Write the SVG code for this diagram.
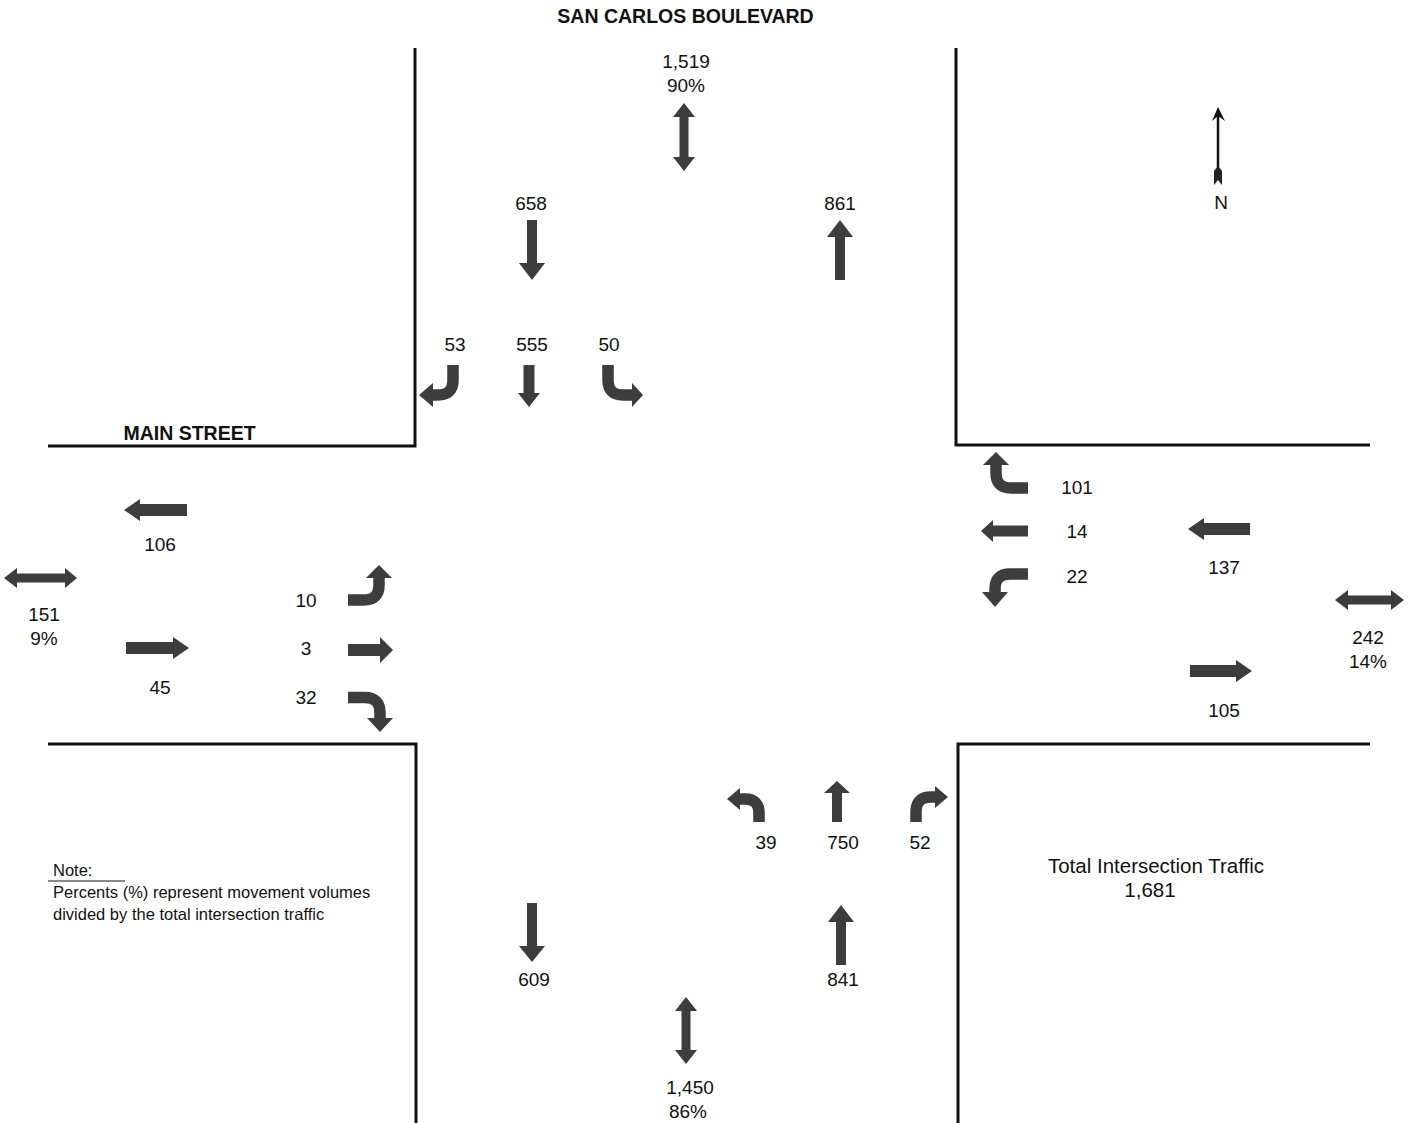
<svg xmlns="http://www.w3.org/2000/svg" width="1416" height="1123" viewBox="0 0 1416 1123">
<style>
.road{stroke:#111;stroke-width:3;fill:none}
.arr{fill:#3d3d3d}
.turn{stroke:#3d3d3d;stroke-width:11.5;fill:none}
text{font-family:"Liberation Sans",Arial,sans-serif;font-size:19px;fill:#111;text-anchor:middle}
.title{font-weight:bold;font-size:19.5px}
.big{font-size:20.5px}
.note{font-size:16.5px;text-anchor:start}
</style>
<rect width="1416" height="1123" fill="#fff"/>
<g id="roads">
<path class="road" d="M415,48 V446 H48"/>
<path class="road" d="M956,48 V445 H1370"/>
<path class="road" d="M48,744 H416 V1123"/>
<path class="road" d="M1370,744 H958 V1123"/>
</g>
<g id="labels">
<text class="title" x="685.5" y="23">SAN CARLOS BOULEVARD</text>
<text class="title" x="189.5" y="440">MAIN STREET</text>
</g>
<g id="connectors">
<g id="north-leg">
<path class="arr" d="M684,103 L695,117 H688.5 V157 H695 L684,171 L673,157 H679.5 V117 H673 Z"/>
<path class="arr" d="M527,220 H537 V263 H545 L532,280 L519,263 H527 Z"/>
<path class="arr" d="M835,280 H845 V237 H853 L840,220 L827,237 H835 Z"/>
<path class="turn" d="M453,365 V380 Q453,395 438,395 H432"/>
<path class="arr" d="M433,383 L419,395 L433,407 Z"/>
<path class="arr" d="M523.5,365 H534.5 V393 H540 L529,407 L518,393 H523.5 Z"/>
<path class="turn" d="M608,365 V380 Q608,395 623,395 H633"/>
<path class="arr" d="M632,383 L643,395 L632,407 Z"/>
</g>
<g id="west-leg">
<path class="arr" d="M187,504 V516 H140 V521 L124,510 L140,499 V504 Z"/>
<path class="arr" d="M4,578 L17,568 V573.5 H65 V568 L77,578 L65,588 V582.5 H17 V588 Z"/>
<path class="arr" d="M126,642 V654 H173 V659 L189,648 L173,637 V642 Z"/>
<path class="turn" d="M348,600 H364 Q379,600 379,585 V577"/>
<path class="arr" d="M366,578 L379,565 L392,578 Z"/>
<path class="arr" d="M348,644 V656 H380 V663 L393,650 L380,637 V644 Z"/>
<path class="turn" d="M348,697.5 H365 Q380,697.5 380,713 V719"/>
<path class="arr" d="M367,718 L380,732 L393,718 Z"/>
</g>
<g id="east-leg">
<path class="turn" d="M1028,488 H1011 Q996,488 996,473 V464"/>
<path class="arr" d="M983,465 L996,452 L1009,465 Z"/>
<path class="arr" d="M1028,525.5 V536.5 H993 V542 L981,531 L993,520 V525.5 Z"/>
<path class="turn" d="M1028,574 H1010 Q995,574 995,589 V593"/>
<path class="arr" d="M982,592 L995,607 L1008,592 Z"/>
<path class="arr" d="M1250,523 V535 H1204 V540 L1188,529 L1204,518 V523 Z"/>
<path class="arr" d="M1335,600 L1348,590 V595.5 H1391 V590 L1404,600 L1391,610 V604.5 H1348 V610 Z"/>
<path class="arr" d="M1190,665 V677 H1236 V682 L1252,671 L1236,660 V665 Z"/>
</g>
<g id="south-leg">
<path class="turn" d="M759,822 V813 Q759,799 745,799 H739"/>
<path class="arr" d="M740,788 L727,799 L740,810 Z"/>
<path class="arr" d="M832,822 H842 V793 H850 L837,781 L824,793 H832 Z"/>
<path class="turn" d="M916,822 V812 Q916,797 931,797 H936"/>
<path class="arr" d="M935,786 L948,797 L935,808 Z"/>
<path class="arr" d="M527,903 H537 V946 H545 L532,962 L519,946 H527 Z"/>
<path class="arr" d="M836,965 H846 V922 H854 L841,905 L828,922 H836 Z"/>
<path class="arr" d="M686,997 L697,1011 H690.5 V1050 H697 L686,1064 L675,1050 H681.5 V1011 H675 Z"/>
</g>
</g>
<g id="volumes">
<text x="686" y="68">1,519</text>
<text x="686" y="92">90%</text>
<text x="531" y="210">658</text>
<text x="840" y="210">861</text>
<text x="455" y="351">53</text>
<text x="532" y="351">555</text>
<text x="609" y="351">50</text>
<text x="160" y="551">106</text>
<text x="44" y="621">151</text>
<text x="44" y="645">9%</text>
<text x="160" y="694">45</text>
<text x="306" y="607">10</text>
<text x="306" y="655">3</text>
<text x="306" y="704">32</text>
<text x="1077" y="494">101</text>
<text x="1077" y="538">14</text>
<text x="1077" y="583">22</text>
<text x="1224" y="574">137</text>
<text x="1368" y="644">242</text>
<text x="1368" y="668">14%</text>
<text x="1224" y="717">105</text>
<text x="766" y="849">39</text>
<text x="843" y="849">750</text>
<text x="920" y="849">52</text>
<text x="534" y="986">609</text>
<text x="843" y="986">841</text>
<text x="690" y="1094">1,450</text>
<text x="688" y="1118">86%</text>
</g>
<g id="north-arrow">
<line x1="1218" y1="112" x2="1218" y2="180" stroke="#111" stroke-width="2.5"/>
<path d="M1212,121 L1218,107 L1225,121 L1218,116 Z" fill="#111"/>
<path d="M1214,171 L1218,166 L1222,171 V185 L1218,180 L1214,185 Z" fill="#222"/>
<text x="1221" y="209">N</text>
</g>
<g id="total">
<text class="big" x="1156" y="873">Total Intersection Traffic</text>
<text class="big" x="1150" y="897">1,681</text>
</g>
<g id="note">
<text class="note" x="53" y="876">Note:</text>
<line x1="48" y1="881" x2="125" y2="881" stroke="#111" stroke-width="1"/>
<text class="note" x="53" y="898">Percents (%) represent movement volumes</text>
<text class="note" x="53" y="920">divided by the total intersection traffic</text>
</g>
</svg>
